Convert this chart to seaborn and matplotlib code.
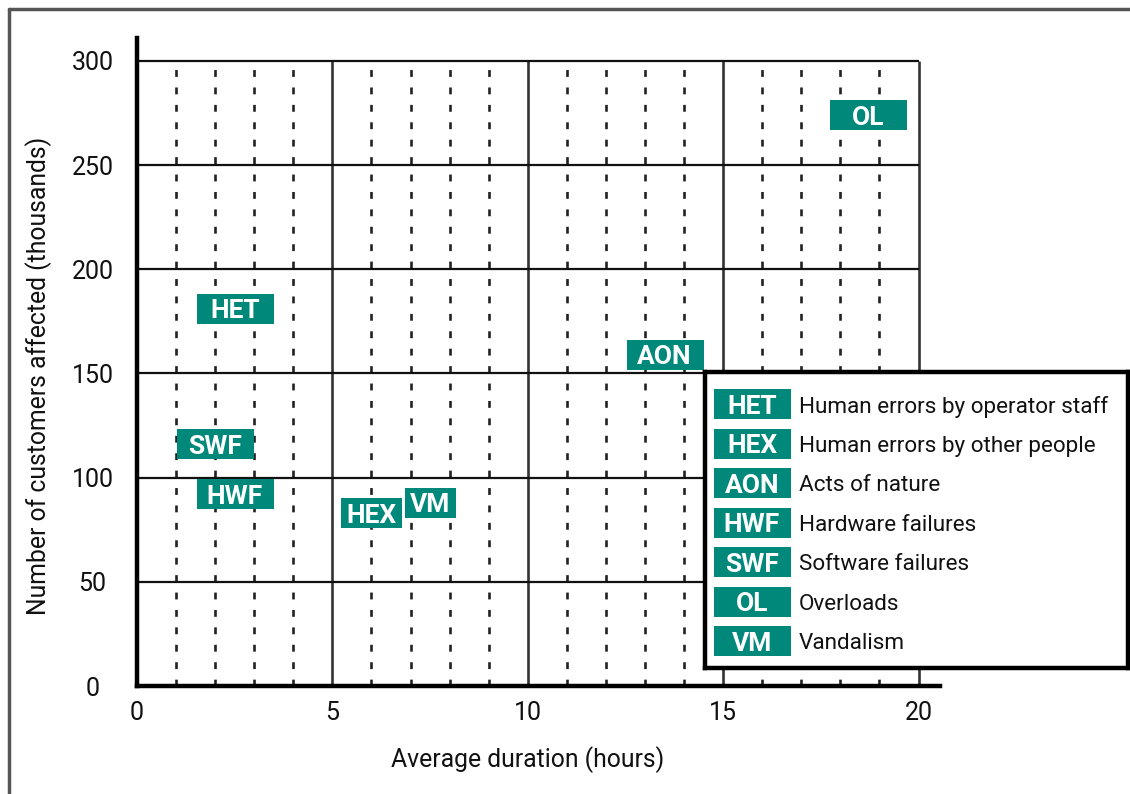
import numpy as np
import pandas as pd
import matplotlib.pyplot as plt
import seaborn as sns
from matplotlib.path import Path
from matplotlib.lines import Line2D

# data
codes = ["HET", "HEX", "AON", "HWF", "SWF", "OL", "VM"]
names = ["Human errors by operator staff", "Human errors by other people",
         "Acts of nature", "Hardware failures", "Software failures",
         "Overloads", "Vandalism"]
duration = [2.5, 6.0, 13.5, 2.5, 2.0, 18.7, 7.5]
customers = [181, 83, 159, 92, 116, 274, 88]

x_ticks = [0, 5, 10, 15, 20]
y_ticks = [0, 50, 100, 150, 200, 250, 300]

teal = "#00897b"
box_w = {"HEX": 61, "VM": 51}   # narrower tags on the chart

sns.set_style("white")
plt.rcParams["font.family"] = ["Roboto", "DejaVu Sans"]


def box_marker(w, h=30):
    hh = 0.5 * h / w
    verts = [(-0.5, -hh), (0.5, -hh), (0.5, hh), (-0.5, hh), (-0.5, -hh)]
    return Path(verts, [Path.MOVETO] + [Path.LINETO] * 3 + [Path.CLOSEPOLY])


df = pd.DataFrame({"code": codes, "name": names,
                   "duration": duration, "customers": customers})

fig = plt.figure(figsize=(11.3, 7.94), dpi=100)
ax = fig.add_axes([137 / 1130, 1 - 686 / 794, 803 / 1130, 648 / 794])
ax.set_xlim(0, 20.55)
ax.set_ylim(0, 311)

# grid
minor_x = [i for i in range(1, 20) if i % 5 != 0]
ax.vlines(minor_x, 0, 300, colors="#222222", lw=1.9,
          linestyles=(0, (2.6, 4.0)), zorder=1)
ax.vlines(x_ticks[1:], 0, 300, colors="#333333", lw=1.9, zorder=1)
ax.hlines(y_ticks[1:], 0, 20, colors="#111111", lw=1.6, zorder=1)

for s in ["top", "right"]:
    ax.spines[s].set_visible(False)
for s in ["left", "bottom"]:
    ax.spines[s].set_linewidth(3.2)
    ax.spines[s].set_color("black")

ax.set_xticks(x_ticks)
ax.set_yticks(y_ticks)
ax.tick_params(axis="both", length=0, labelsize=18, colors="#111111")
ax.tick_params(axis="x", pad=11)
ax.tick_params(axis="y", pad=32)
for lab in ax.get_yticklabels():
    lab.set_ha("center")

ax.set_xlabel("Average duration (hours)", fontsize=17.8, color="#111111")
ax.set_ylabel("Number of customers affected (thousands)", fontsize=17.8, color="#111111")
ax.xaxis.set_label_coords(0.486, -0.093)
ax.yaxis.set_label_coords(-0.106, 0.478)

# tags on the chart
for _, r in df.iterrows():
    w = box_w.get(r["code"], 77)
    sns.scatterplot(x=[r["duration"]], y=[r["customers"]], marker=box_marker(w),
                    s=(w * 0.72) ** 2, color=teal, linewidth=0, ax=ax, zorder=3)
    ax.text(r["duration"], r["customers"], r["code"], color="white",
            fontsize=19, fontweight="bold", ha="center", va="center_baseline", zorder=4)

# legend panel
lg = fig.add_axes([705 / 1130, 1 - 668 / 794, 423 / 1130, 296 / 794])
lg.set_xlim(0, 1)
lg.set_ylim(6.68, -0.81)
lg.set_xticks([])
lg.set_yticks([])
for s in lg.spines.values():
    s.set_linewidth(3.2)
    s.set_color("black")
rows = np.arange(len(codes))
sns.scatterplot(x=[0.111] * len(codes), y=rows, marker=box_marker(77),
                s=(77 * 0.72) ** 2, color=teal, linewidth=0, ax=lg)
for i, r in df.iterrows():
    lg.text(0.111, i, r["code"], color="white", fontsize=19, fontweight="bold",
            ha="center", va="center_baseline")
    lg.text(0.222, i, r["name"], color="#111111", fontsize=16.2,
            ha="left", va="center_baseline")

# outer frame lines (top and left)
fig.add_artist(Line2D([9 / 1130, 9 / 1130], [0, 1 - 9 / 794],
                      transform=fig.transFigure, color="#555555", lw=2.5))
fig.add_artist(Line2D([9 / 1130, 1], [1 - 9 / 794, 1 - 9 / 794],
                      transform=fig.transFigure, color="#555555", lw=2.5))

fig.savefig("out.png", dpi=100)
